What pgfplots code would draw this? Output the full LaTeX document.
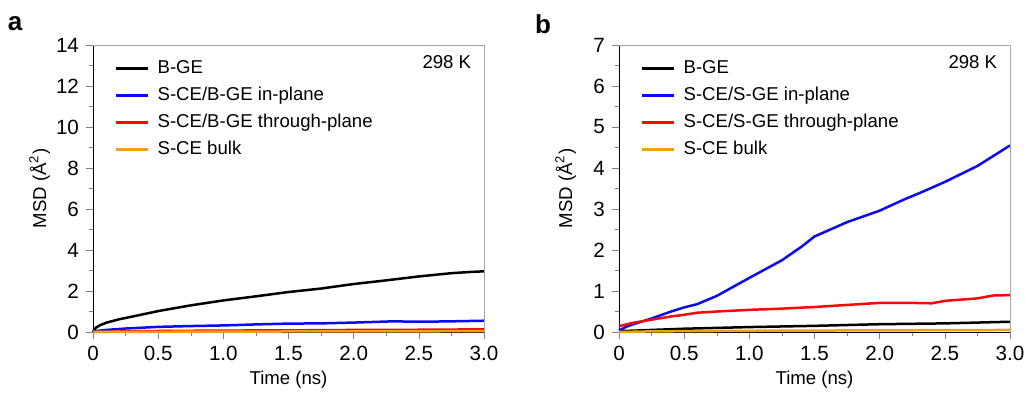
\documentclass[border=0pt]{standalone}
\usepackage{pgfplots}
\pgfplotsset{compat=1.18}
\usepackage{fontspec}
\setmainfont{Liberation Sans}
\definecolor{cblue}{RGB}{10,10,245}
\definecolor{cred}{RGB}{245,10,10}
\definecolor{corange}{RGB}{236,162,20}
\pgfplotsset{
  msd/.style={
    scale only axis, width=195.5pt, height=143.5pt,
    xmin=0, xmax=3, ymin=0,
    axis x line*=bottom, axis y line*=left,
    tick align=outside, major tick length=3.5pt, minor tick length=2pt,
    xtick={0,0.5,1,1.5,2,2.5,3}, xticklabels={0,0.5,1.0,1.5,2.0,2.5,3.0},
    minor x tick num=1, minor y tick num=1,
    tick label style={font=\fontsize{10.3}{11}\selectfont},
    label style={font=\fontsize{9.3}{10}\selectfont},
    /pgf/number format/assume math mode=true,
    xlabel={Time (ns)}, ylabel={MSD (Å\textsuperscript{2})},
    xlabel style={at={(axis description cs:0.5,0)}, anchor=north, yshift=-16pt},
    ylabel style={at={(axis description cs:0,0.5)}, anchor=south, yshift=18pt},
    legend cell align=left,
    legend style={draw=none, fill=none, at={(rel axis cs:0.04,0.975)}, anchor=north west,
      font=\fontsize{9.3}{10}\selectfont, row sep=1.3pt,
      /tikz/every odd column/.append style={column sep=2pt}},
    legend image post style={line width=1.3pt},
    legend image code/.code={\draw[#1] (0pt,0pt) -- (16pt,0pt);},
    every axis plot/.append style={line width=1.25pt},
    clip=false,
  }
}
\begin{document}
\begin{tikzpicture}
\path[use as bounding box] (-46.5pt,-30pt) rectangle (466pt,166pt);
% Panel a
\begin{axis}[msd, at={(0pt,0pt)}, anchor=south west, ymax=14, ytick={0,2,...,14}]
\addplot[black] coordinates {(0,0) (0.02,0.2) (0.05,0.32) (0.1,0.45) (0.2,0.62) (0.3,0.75) (0.5,1.02) (0.75,1.3) (1.0,1.54) (1.25,1.74) (1.5,1.95) (1.75,2.12) (2.0,2.34) (2.25,2.52) (2.5,2.71) (2.75,2.87) (2.9,2.93) (3.0,2.96)};
\addlegendentry{B-GE}
\addplot[cblue] coordinates {(0,0.03) (0.1,0.1) (0.25,0.17) (0.5,0.25) (0.75,0.29) (1.0,0.32) (1.25,0.37) (1.5,0.41) (1.75,0.42) (2.0,0.46) (2.3,0.52) (2.5,0.5) (2.75,0.52) (3.0,0.55)};
\addlegendentry{S-CE/B-GE in-plane}
\addplot[cred] coordinates {(0,0) (0.25,0.03) (0.5,0.05) (1.0,0.07) (1.5,0.08) (2.0,0.1) (2.5,0.11) (3.0,0.13)};
\addlegendentry{S-CE/B-GE through-plane}
\addplot[corange] coordinates {(0,0) (0.5,0.01) (1.0,0.02) (2.0,0.03) (3.0,0.04)};
\addlegendentry{S-CE bulk}
\node[anchor=center, font=\fontsize{9.3}{10}\selectfont] at (rel axis cs:0.905,0.94) {298 K};
\draw[gray!70] (rel axis cs:0,1) -- (rel axis cs:1,1) -- (rel axis cs:1,0);
\end{axis}
\node[font=\fontsize{13}{14}\selectfont\bfseries] at (-39pt,154pt) {a};
% Panel b
\begin{axis}[msd, at={(263pt,0pt)}, anchor=south west, ymax=7, ytick={0,1,...,7}]
\addplot[black] coordinates {(0,0.02) (0.25,0.05) (0.5,0.08) (1.0,0.12) (1.5,0.15) (2.0,0.19) (2.5,0.21) (3.0,0.25)};
\addlegendentry{B-GE}
\addplot[cblue] coordinates {(0,0.03) (0.05,0.12) (0.1,0.18) (0.25,0.33) (0.4,0.5) (0.5,0.6) (0.6,0.68) (0.75,0.88) (1.0,1.32) (1.25,1.75) (1.4,2.08) (1.5,2.33) (1.75,2.68) (2.0,2.96) (2.2,3.25) (2.3,3.38) (2.5,3.66) (2.75,4.05) (3.0,4.55)};
\addlegendentry{S-CE/S-GE in-plane}
\addplot[cred] coordinates {(0,0.14) (0.1,0.22) (0.25,0.3) (0.4,0.38) (0.5,0.42) (0.6,0.47) (0.75,0.5) (1.0,0.54) (1.25,0.57) (1.5,0.61) (1.75,0.66) (2.0,0.71) (2.25,0.71) (2.4,0.7) (2.5,0.76) (2.75,0.82) (2.87,0.89) (3.0,0.9)};
\addlegendentry{S-CE/S-GE through-plane}
\addplot[corange] coordinates {(0,0) (0.25,0.015) (0.5,0.02) (1.0,0.03) (2.0,0.04) (3.0,0.05)};
\addlegendentry{S-CE bulk}
\node[anchor=center, font=\fontsize{9.3}{10}\selectfont] at (rel axis cs:0.905,0.94) {298 K};
\draw[gray!70] (rel axis cs:0,1) -- (rel axis cs:1,1) -- (rel axis cs:1,0);
\end{axis}
\node[font=\fontsize{13}{14}\selectfont\bfseries] at (225pt,154pt) {b};
\end{tikzpicture}
\end{document}
